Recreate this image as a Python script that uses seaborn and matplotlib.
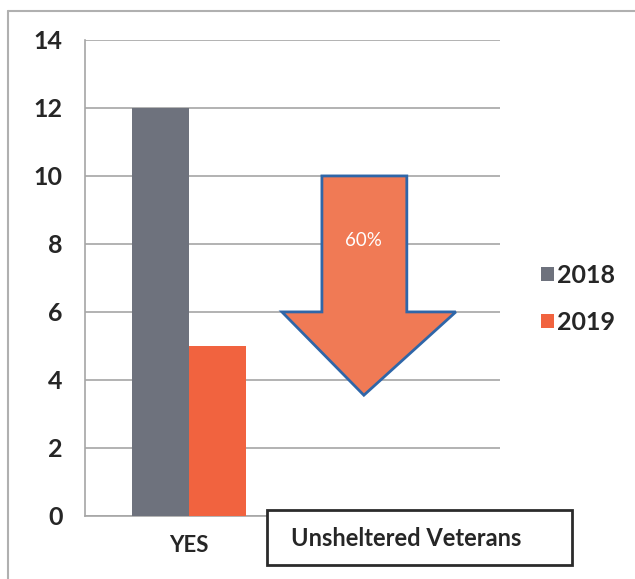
import matplotlib
matplotlib.use("Agg")
import matplotlib.pyplot as plt
from matplotlib.patches import Polygon, Rectangle
import pandas as pd
import seaborn as sns

# Chart data
categories = ["YES", "YES"]
years = ["2018", "2019"]
counts = [12, 5]
change_label = "60%"
box_label = "Unsheltered Veterans"
y_ticks = [0, 2, 4, 6, 8, 10, 12, 14]

palette = {"2018": "#6E727D", "2019": "#F1633F"}

sns.set_theme(style="white")
plt.rcParams["font.family"] = ["Lato", "DejaVu Sans"]
plt.rcParams["ytick.labelsize"] = 18
plt.rcParams["xtick.labelsize"] = 16

df = pd.DataFrame({"category": categories, "year": years, "count": counts})

fig = plt.figure(figsize=(6.35, 5.79), dpi=100)
fig.patch.set_facecolor("white")
ax = fig.add_axes([0.134, 0.109, 0.653, 0.822])

sns.barplot(data=df, x="category", y="count", hue="year", palette=palette,
            width=0.7, saturation=1, linewidth=0, ax=ax, zorder=3)

ax.set_ylim(0, 14)
ax.set_xlim(-0.634, 1.896)
ax.set_xlabel("")
ax.set_ylabel("")
ax.set_yticks(y_ticks)
ax.set_yticklabels([str(v) for v in y_ticks], fontsize=18, fontweight="bold",
                   color="#262626")
ax.set_xticks([0])
ax.set_xticklabels([categories[0]], fontsize=16, fontweight="bold",
                   color="#262626")

# Horizontal gridlines extending slightly left of the axis
ax.yaxis.grid(True, color="#A6A6A6", linewidth=1.2, zorder=0)
ax.tick_params(axis="y", length=7, width=1.2, color="#A6A6A6", pad=9)
ax.tick_params(axis="x", length=0, pad=14)
for s in ["top", "right"]:
    ax.spines[s].set_visible(False)
ax.spines["left"].set_color("#A6A6A6")
ax.spines["left"].set_linewidth(1.2)
ax.spines["bottom"].set_color("#A6A6A6")
ax.spines["bottom"].set_linewidth(1.2)

# Down arrow showing the decrease
arrow = Polygon([(0.811, 10), (1.329, 10), (1.329, 6), (1.628, 6),
                 (1.067, 3.55), (0.567, 6), (0.811, 6)],
                closed=True, facecolor="#F07A55", edgecolor="#2F66A8",
                linewidth=2, zorder=4, joinstyle="miter")
ax.add_patch(arrow)
ax.text(1.067, 8.1, change_label, color="white", fontsize=13.5,
        ha="center", va="center", zorder=5)

# Legend on the right
leg = ax.legend(loc="center left", bbox_to_anchor=(0.852, 0.484),
                bbox_transform=fig.transFigure, frameon=False,
                fontsize=18, handlelength=0.5, handleheight=0.5,
                handletextpad=0.15, labelspacing=0.95, borderaxespad=0,
                borderpad=0)
for t in leg.get_texts():
    t.set_color("#262626")
    t.set_fontweight("bold")

# Caption box
fig.patches.append(Rectangle((267 / 635, 1 - 565 / 579), 305 / 635, 55 / 579,
                             transform=fig.transFigure, facecolor="white",
                             edgecolor="#2B2B2B", linewidth=2, zorder=5))
fig.text(406 / 635, 1 - 538 / 579, box_label, ha="center", va="center",
         fontsize=17, color="#262626", fontweight="bold", zorder=6)

# Light frame along the top and left edges
fig.add_artist(plt.Line2D([8 / 635, 1], [1 - 11 / 579, 1 - 11 / 579],
                          transform=fig.transFigure, color="#B0B0B0", lw=1.5))
fig.add_artist(plt.Line2D([8 / 635, 8 / 635], [0, 1 - 11 / 579],
                          transform=fig.transFigure, color="#B0B0B0", lw=1.5))

fig.savefig("out.png", dpi=100)
